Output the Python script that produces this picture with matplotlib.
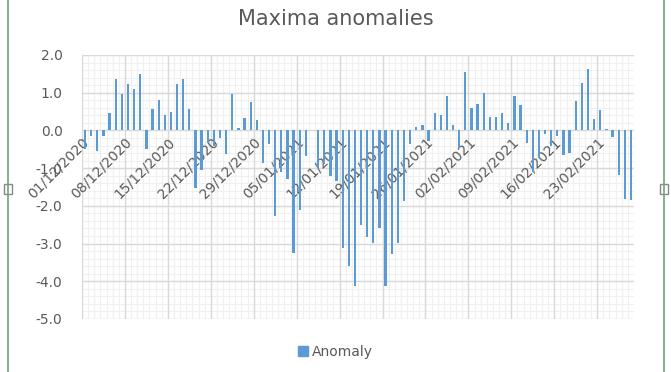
import matplotlib
matplotlib.use("Agg")
import matplotlib.pyplot as plt
import numpy as np
import pandas as pd
from matplotlib.patches import Rectangle
from matplotlib.lines import Line2D

# daily maxima anomaly, 01/12/2020 .. 28/02/2021
start = "2020-12-01"
anomaly = [
    -0.48, -0.15, -0.55, -0.15, 0.47, 1.37, 0.97, 1.24, 1.09, 1.50,
    -0.50, 0.58, 0.80, 0.42, 0.50, 1.22, 1.37, 0.57, -1.52, -1.05,
    -0.33, -0.40, -0.21, -0.62, 0.97, 0.07, 0.32, 0.76, 0.28, -0.86,
    -0.35, -2.27, -1.10, -1.30, -3.25, -2.10, -0.68, 0.00, -1.00, -0.90,
    -1.21, -1.35, -3.11, -3.60, -4.13, -2.50, -2.83, -2.98, -2.58, -4.13,
    -3.27, -2.98, -1.88, -0.37, 0.10, 0.14, -0.28, 0.47, 0.40, 0.90,
    0.14, -0.46, 1.55, 0.60, 0.71, 1.00, 0.35, 0.35, 0.46, 0.20,
    0.90, 0.68, -0.33, -1.10, -0.73, -0.10, -0.40, -0.15, -0.65, -0.60,
    0.78, 1.27, 1.62, 0.29, 0.53, 0.03, -0.18, -1.17, -1.81, -1.85,
]
dates = pd.date_range(start, periods=len(anomaly), freq="D")
tick_labels = [d.strftime("%d/%m/%Y") for d in dates[::7]]

grey = "#595959"
blue = "#5b9bd5"

fig = plt.figure(figsize=(6.71, 3.72), dpi=100)
ax = fig.add_axes([82 / 671, 53 / 372, 552 / 671, 264 / 372])

x = np.arange(len(anomaly)) + 0.5
ax.bar(x, anomaly, width=0.38, color=blue, label="Anomaly", zorder=2)

ax.set_xlim(0, len(anomaly))
ax.set_ylim(-5, 2)

for s in ["top", "right", "left"]:
    ax.spines[s].set_visible(False)
ax.spines["bottom"].set_position(("data", 0))
ax.spines["bottom"].set_visible(False)
ax.tick_params(which="both", length=0)
ax.tick_params(axis="x", pad=3)
ax.tick_params(axis="y", pad=14)

xmaj = np.arange(0, len(anomaly), 7)
xmin = np.arange(0, len(anomaly) + 1, 1)
ymaj = np.arange(-5, 2.1, 1)
ymin = np.arange(-5, 2.01, 0.2)

ax.set_xticks(xmaj)
ax.set_xticklabels(tick_labels, fontsize=10, color=grey)
plt.setp(ax.get_xticklabels(), rotation=45, ha="right", va="top",
         rotation_mode="anchor")
ax.set_yticks(ymaj)
ax.set_yticklabels([f"{v:.1f}" for v in ymaj], fontsize=10, color=grey)

# gridlines drawn under the bars, tick labels stay on top
for v in xmin:
    ax.axvline(v, color="#f0f0f0", linewidth=0.8, zorder=0)
for v in ymin:
    ax.axhline(v, color="#f0f0f0", linewidth=0.8, zorder=0)
for v in xmaj:
    ax.axvline(v, color="#d9d9d9", linewidth=1.0, zorder=1)
for v in ymaj:
    ax.axhline(v, color="#d9d9d9", linewidth=1.0, zorder=1)

fig.suptitle("Maxima anomalies", x=0.5, y=0.975, fontsize=15, color=grey)

fig.legend(handles=[Rectangle((0, 0), 1, 1, color=blue)], labels=["Anomaly"],
           loc="center", bbox_to_anchor=(0.5, 20 / 372), frameon=False,
           fontsize=10, handlelength=0.7, handleheight=0.7, handletextpad=0.3,
           labelcolor=grey)

# selection frame of the embedded chart
for xf in [8 / 671, 664 / 671]:
    fig.add_artist(Line2D([xf, xf], [0, 1], color="#6aa57a", linewidth=1.2))
    fig.add_artist(Rectangle((xf - 4 / 671, 178 / 372), 8 / 671, 10 / 372,
                             facecolor="white", edgecolor="#888888",
                             linewidth=1.0))

fig.savefig("out.png", dpi=100)
